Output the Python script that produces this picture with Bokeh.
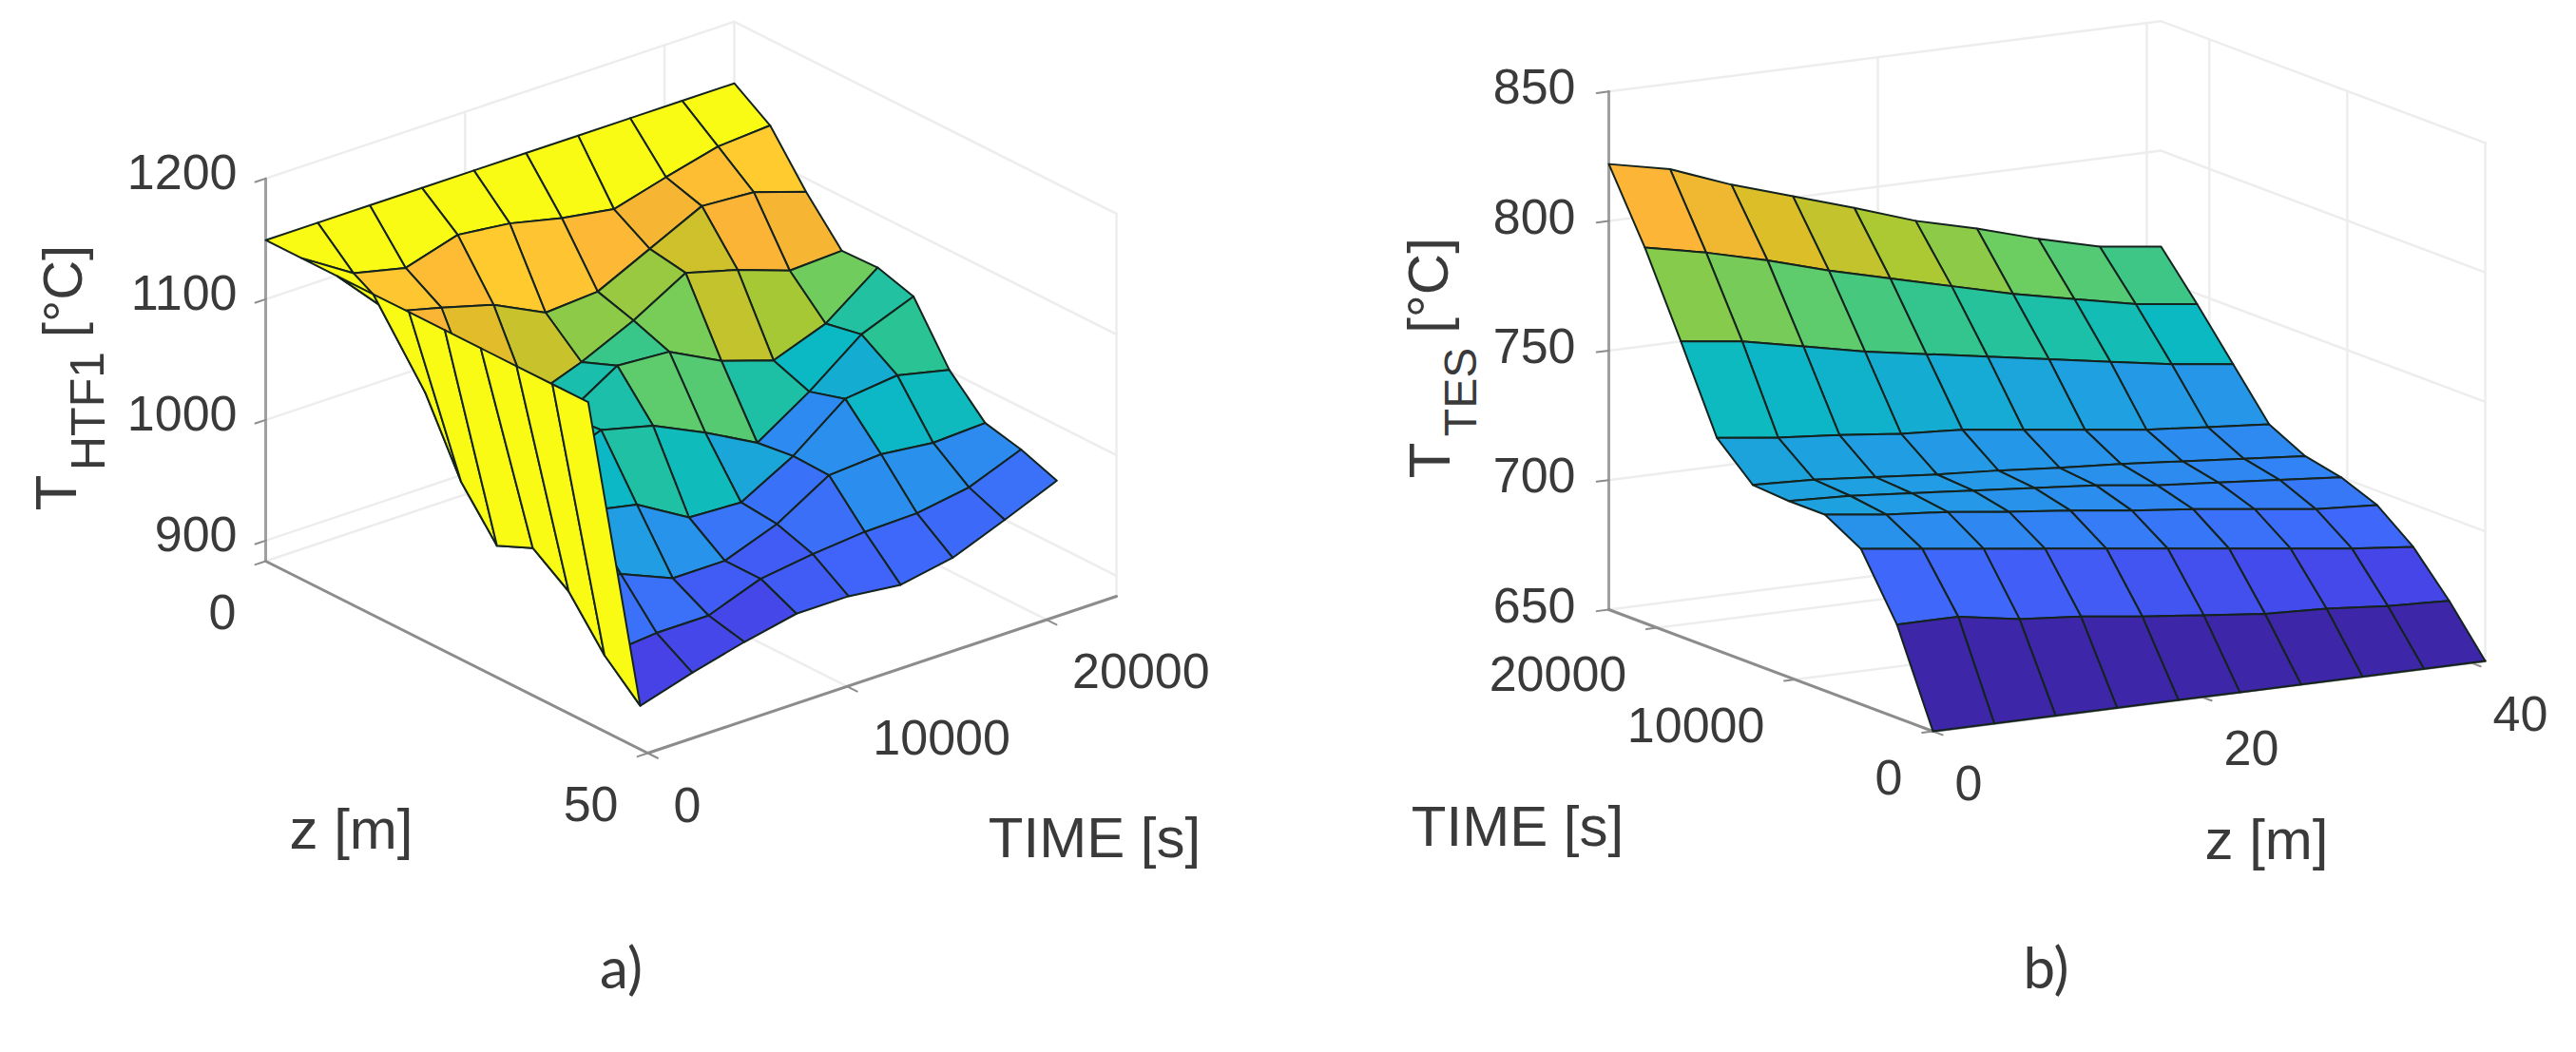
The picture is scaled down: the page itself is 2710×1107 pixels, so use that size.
from bokeh.plotting import figure
from bokeh.models import Range1d, ColumnDataSource
from bokeh.core.properties import value
from bokeh.embed import file_html
from bokeh.resources import INLINE

# ---------- data: panel a) T_HTF1, rows are z positions, columns are time steps
a_time = [0, 2611, 5222, 7833, 10444, 13055, 15666, 18277, 20888, 23500]
a_z = [0, 4.69, 9.38, 14.07, 18.76, 23.45, 28.14, 32.83, 37.52, 42.2]
a_z0 = [1149, 1149, 1149, 1149, 1149, 1149, 1149, 1149, 1149, 1149]
a_z1 = [1149, 1122, 1112, 1125, 1120, 1110, 1103, 1115, 1126, 1129]
a_z2 = [1149, 1105, 1094, 1082, 1061, 1064, 1085, 1106, 1103, 1089]
a_z3 = [1149, 1053, 1031, 1019, 1035, 1055, 1080, 1068, 1053, 1055]
a_z4 = [1149, 994, 1014, 1020, 1047, 1044, 1022, 1008, 1024, 1056]
a_z5 = [1149, 956, 1006, 1023, 1012, 992, 969, 997, 1030, 1047]
a_z6 = [1149, 969, 985, 976, 951, 949, 973, 1006, 1011, 1001]
a_z7 = [1149, 948, 948, 930, 930, 946, 972, 975, 970, 972]
a_z8 = [1149, 910, 914, 914, 930, 936, 940, 941, 948, 965]
a_z9 = [1149, 883, 896, 907, 916, 916, 911, 919, 936, 954]
a_temp_ticks = [900, 1000, 1100, 1200]
a_time_ticks = [0, 10000, 20000]
a_z_ticks = [0, 50]

# ---------- data: panel b) T_TES, rows are time steps, columns are z positions
b_z = [0, 4.56, 9.12, 13.69, 18.25, 22.81, 27.37, 31.94, 36.5, 41.06]
b_time = [0, 2611, 5222, 7833, 10444, 13055, 15666, 18277, 20888, 23500]
b_t0 = [650, 650, 650, 650, 650, 650, 650, 650, 650, 650]
b_t1 = [686, 686, 682, 680, 677, 674.5, 672, 671, 669, 668]
b_t2 = [710, 707, 704, 701, 698, 695, 692, 689, 686, 683.6]
b_t3 = [718, 715, 713, 710, 707.5, 704.5, 702, 699, 696, 694.5]
b_t4 = [718, 717, 715, 713, 711, 709, 706, 704, 702, 700]
b_t5 = [719, 718, 716, 714, 712.5, 710.5, 709, 707, 705, 703]
b_t6 = [732, 729, 727, 724.5, 723, 720, 717, 714, 712, 710]
b_t7 = [764, 761, 756, 751, 747, 743, 739, 735, 731, 728]
b_t8 = [795, 790, 784, 777, 771, 765, 759, 754, 749, 746]
b_t9 = [822, 817, 808, 800.5, 793, 785, 779, 772, 766, 763]
b_temp_ticks = [650, 700, 750, 800, 850]
b_time_ticks = [0, 10000, 20000]
b_z_ticks = [0, 20, 40]

PARULA = [(0, (62, 38, 168)), (.10, (70, 65, 230)), (.2, (64, 100, 250)), (.3, (50, 130, 245)),
          (.375, (35, 155, 230)), (.47, (10, 185, 195)), (.55, (40, 195, 150)), (.63, (105, 205, 100)),
          (.70, (170, 200, 50)), (.78, (220, 190, 40)), (.84, (253, 180, 55)), (.92, (255, 205, 45)),
          (1, (249, 251, 21))]


def parula(f):
    f = min(max(f, 0.0), 1.0)
    for (f0, c0), (f1, c1) in zip(PARULA, PARULA[1:]):
        if f <= f1:
            w = (f - f0) / (f1 - f0)
            return "#%02x%02x%02x" % tuple(round(c0[n] * (1 - w) + c1[n] * w) for n in range(3))
    return "#f9fb15"


W, H = 2694, 1091
p = figure(width=W, height=H, x_range=Range1d(8, 8 + W), y_range=Range1d(8 + H, 8),
           output_backend="svg", toolbar_location=None, min_border=0,
           x_axis_type=None, y_axis_type=None)
p.grid.visible = False
p.outline_line_color = None
p.background_fill_color = "white"

GRID = "#ededed"
AXIS = "#8c8c8c"
TEXT = "#3a3a3a"
SANS = value("Liberation Sans")


def label(x, y, s, size, align="center", angle=0.0, font=SANS, base="middle"):
    p.text([x], [y], text=[s], text_font=font, text_font_size=f"{size}px", text_color=TEXT,
           text_align=align, text_baseline=base, angle=angle)


def lines(segs, color, width):
    p.multi_line([s[0] for s in segs], [s[1] for s in segs], line_color=color, line_width=width,
                 line_cap="round")


def seg(proj, a, b):
    pa, pb = proj(*a), proj(*b)
    return ([pa[0], pb[0]], [pa[1], pb[1]])


# ------------------------------------------------------------ panel a
def a_proj(t, z, T):
    return (287 + t * 493 / 23500 + z * 402 / 50, 598 - t * 165 / 23500 + z * 202 / 50 - (T - 883) * 1.27)


a_rows = [a_z0, a_z1, a_z2, a_z3, a_z4, a_z5, a_z6, a_z7, a_z8, a_z9]
A_T0, A_T1, A_TM, A_ZM = 883, 1200, 23500, 50

grid = []
for T in a_temp_ticks:
    grid.append(seg(a_proj, (0, 0, T), (A_TM, 0, T)))
    grid.append(seg(a_proj, (A_TM, 0, T), (A_TM, A_ZM, T)))
for t in a_time_ticks[1:]:
    grid.append(seg(a_proj, (t, 0, A_T0), (t, 0, A_T1)))
    grid.append(seg(a_proj, (t, 0, A_T0), (t, A_ZM, A_T0)))
grid.append(seg(a_proj, (A_TM, 0, A_T0), (A_TM, 0, A_T1)))
grid.append(seg(a_proj, (A_TM, A_ZM, A_T0), (A_TM, A_ZM, A_T1)))
grid.append(seg(a_proj, (0, 0, A_T0), (A_TM, 0, A_T0)))
lines(grid, GRID, 2.5)

lines([seg(a_proj, (0, 0, A_T0), (0, 0, A_T1))], "#a0a0a0", 3)
lines([seg(a_proj, (0, 0, A_T0), (0, A_ZM, A_T0)), seg(a_proj, (0, A_ZM, A_T0), (A_TM, A_ZM, A_T0))], AXIS, 3)
ticks = [seg(a_proj, (0, 0, T), (-520, 0, T)) for T in a_temp_ticks]
ticks += [seg(a_proj, (t, A_ZM, A_T0), (t, A_ZM + 1.3, A_T0)) for t in a_time_ticks]
ticks += [seg(a_proj, (0, z, A_T0), (-520, z, A_T0)) for z in a_z_ticks]
lines(ticks, AXIS, 2)

xs, ys, cols = [], [], []
vmin, vmax = min(min(r) for r in a_rows), max(max(r) for r in a_rows)
for k in range(len(a_time) - 2, -1, -1):
    for j in range(len(a_z) - 1):
        quad = [(k, j), (k + 1, j), (k + 1, j + 1), (k, j + 1)]
        pts = [a_proj(a_time[q[0]], a_z[q[1]], a_rows[q[1]][q[0]]) for q in quad]
        xs.append([q[0] for q in pts])
        ys.append([q[1] for q in pts])
        cols.append(parula((a_rows[j][k] - vmin) / (vmax - vmin)))
p.patches("xs", "ys", fill_color="cols", line_color="#14231e", line_width=2, line_join="round",
          source=ColumnDataSource(dict(xs=xs, ys=ys, cols=cols)))

for T in a_temp_ticks:
    x, y = a_proj(0, 0, T)
    label(x - 30, y - 7, str(T), 52, "right")
for t in a_time_ticks:
    x, y = a_proj(t, A_ZM, A_T0)
    label(x + 27, y + 54, str(t), 52, "left")
for z in a_z_ticks:
    x, y = a_proj(0, z, A_T0)
    label(x - 31, y + 53, str(z), 52, "right")
label(377, 880, "z [m]", 60)
label(1159, 889, "TIME [s]", 60)
label(661, 1024, "a)", 60, font=value("Lato"))
label(66, 526, "T", 62, angle=1.5708)
label(100, 440, "HTF1", 50, angle=1.5708)
label(73, 314, "[°C]", 58, angle=1.5708)


# ------------------------------------------------------------ panel b
def b_proj(t, z, T):
    return (2041 - t * 341 / 23500 + z * 581 / 41.06, 777 - t * 128 / 23500 - z * 74 / 41.06 - (T - 650) * 2.726)


b_rows = [b_t0, b_t1, b_t2, b_t3, b_t4, b_t5, b_t6, b_t7, b_t8, b_t9]
B_T0, B_T1, B_TM, B_ZM = 650, 850, 23500, 41.06

grid = []
for T in b_temp_ticks:
    grid.append(seg(b_proj, (B_TM, 0, T), (B_TM, B_ZM, T)))
    grid.append(seg(b_proj, (B_TM, B_ZM, T), (0, B_ZM, T)))
for t in b_time_ticks:
    grid.append(seg(b_proj, (t, B_ZM, B_T0), (t, B_ZM, B_T1)))
    grid.append(seg(b_proj, (t, 0, B_T0), (t, B_ZM, B_T0)))
for z in b_z_ticks[1:]:
    grid.append(seg(b_proj, (B_TM, z, B_T0), (B_TM, z, B_T1)))
    grid.append(seg(b_proj, (B_TM, z, B_T0), (0, z, B_T0)))
lines(grid, GRID, 2.5)

lines([seg(b_proj, (B_TM, 0, B_T0), (B_TM, 0, B_T1))], "#a0a0a0", 3)
lines([seg(b_proj, (B_TM, 0, B_T0), (0, 0, B_T0)), seg(b_proj, (0, 0, B_T0), (0, B_ZM, B_T0))], AXIS, 3)
ticks = [seg(b_proj, (B_TM, 0, T), (B_TM, -0.9, T)) for T in b_temp_ticks]
ticks += [seg(b_proj, (t, 0, B_T0), (t, -0.8, B_T0)) for t in b_time_ticks]
ticks += [seg(b_proj, (0, z, B_T0), (-700, z, B_T0)) for z in b_z_ticks]
lines(ticks, AXIS, 2)

xs, ys, cols = [], [], []
vmin, vmax = min(min(r) for r in b_rows), max(max(r) for r in b_rows)
for k in range(len(b_time) - 2, -1, -1):
    for j in range(len(b_z) - 2, -1, -1):
        quad = [(k, j), (k + 1, j), (k + 1, j + 1), (k, j + 1)]
        pts = [b_proj(b_time[q[0]], b_z[q[1]], b_rows[q[0]][q[1]]) for q in quad]
        xs.append([q[0] for q in pts])
        ys.append([q[1] for q in pts])
        cols.append(parula((b_rows[k][j] - vmin) / (vmax - vmin)))
p.patches("xs", "ys", fill_color="cols", line_color="#14231e", line_width=2, line_join="round",
          source=ColumnDataSource(dict(xs=xs, ys=ys, cols=cols)))

for T in b_temp_ticks:
    x, y = b_proj(B_TM, 0, T)
    label(x - 35, y - 5, str(T), 52, "right")
for t in b_time_ticks:
    x, y = b_proj(t, 0, B_T0)
    label(x - 32, y + 48, str(t), 52, "right")
for z in b_z_ticks:
    x, y = b_proj(0, z, B_T0)
    label(x + 23, y + 54, str(z), 52, "left")
label(1604, 877, "TIME [s]", 60)
label(2392, 891, "z [m]", 60)
label(2160, 1024, "b)", 60, font=value("Lato"))
label(1511, 492, "T", 62, angle=1.5708)
label(1544, 420, "TES", 48, angle=1.5708)
label(1510, 308, "[°C]", 60, angle=1.5708)

open("out.html", "w").write(file_html(p, INLINE))
